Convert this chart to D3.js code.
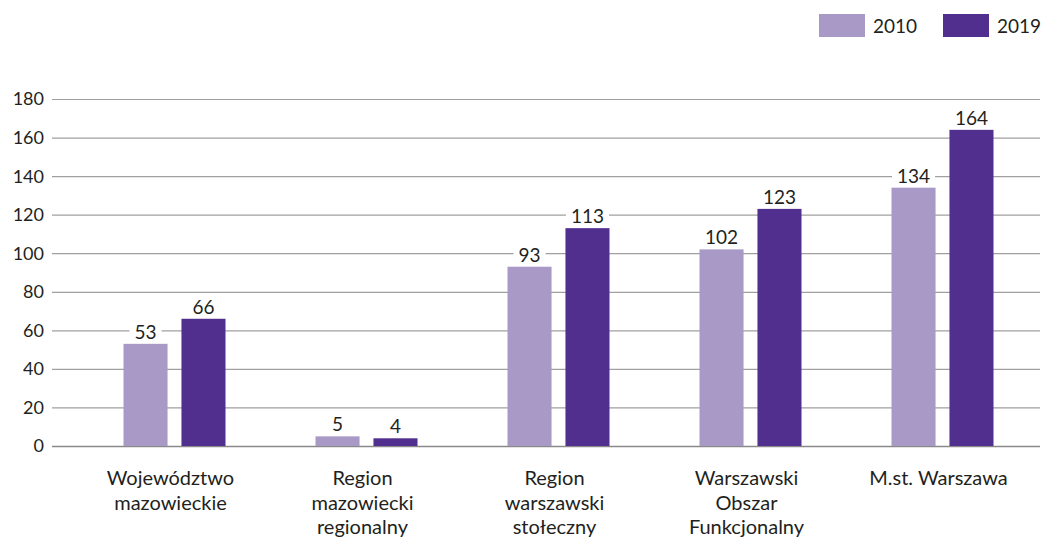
<!DOCTYPE html>
<html>
<head>
<meta charset="utf-8">
<script src="https://cdn.jsdelivr.net/npm/d3@7/dist/d3.min.js"></script>
<style>
  body { margin: 0; background: #fff; }
  svg text { font-family: Lato, "Open Sans", sans-serif; fill: #231f20; }
</style>
</head>
<body>
<svg id="chart" width="1042" height="539"></svg>
<script>
// Data
const categories = [
  ["Województwo", "mazowieckie"],
  ["Region", "mazowiecki", "regionalny"],
  ["Region", "warszawski", "stołeczny"],
  ["Warszawski", "Obszar", "Funkcjonalny"],
  ["M.st. Warszawa"]
];
const seriesNames = ["2010", "2019"];
const values2010 = [53, 5, 93, 102, 134];
const values2019 = [66, 4, 113, 123, 164];
const yTicks = [0, 20, 40, 60, 80, 100, 120, 140, 160, 180];
const colors = ["#a899c7", "#512f8f"];

const svg = d3.select("#chart");
const gridLeft = 52, gridRight = 1040;
const y = d3.scaleLinear().domain([0, 180]).range([446, 99]);
const x = d3.scaleBand().domain(d3.range(categories.length)).range([78.5, 1038.5]);
const groupW = 102;
const xi = d3.scaleBand().domain([0, 1]).range([0, groupW]).paddingInner(0.24);

// Gridlines and y tick labels
const grid = svg.append("g");
grid.selectAll("line").data(yTicks).join("line")
  .attr("x1", gridLeft).attr("x2", gridRight)
  .attr("y1", d => y(d) + 0.5).attr("y2", d => y(d) + 0.5)
  .attr("stroke", d => d === 0 ? "#8a8a8a" : "#a0a0a0")
  .attr("stroke-width", d => d === 0 ? 1.5 : 1.2);
grid.selectAll("text").data(yTicks).join("text")
  .attr("x", 44).attr("y", d => y(d))
  .attr("dy", "0.36em")
  .attr("text-anchor", "end")
  .attr("font-size", 18)
  .text(d => d);

// Bars
const rows = categories.map((c, i) => ({ i, vals: [values2010[i], values2019[i]] }));
const groups = svg.append("g").selectAll("g").data(rows).join("g")
  .attr("transform", d => `translate(${x(d.i) + x.bandwidth() / 2 - groupW / 2},0)`);
groups.selectAll("rect").data(d => d.vals.map((v, s) => ({ v, s }))).join("rect")
  .attr("x", d => xi(d.s))
  .attr("width", xi.bandwidth())
  .attr("y", d => y(d.v))
  .attr("height", d => y(0) - y(d.v))
  .attr("fill", d => colors[d.s]);

// Value labels with white backing
const labels = groups.selectAll("g.lbl").data(d => d.vals.map((v, s) => ({ v, s }))).join("g")
  .attr("class", "lbl");
labels.each(function (d) {
  const g = d3.select(this);
  const cx = xi(d.s) + xi.bandwidth() / 2;
  const t = g.append("text")
    .attr("x", cx).attr("y", y(d.v) - 5)
    .attr("text-anchor", "middle")
    .attr("font-size", 19)
    .text(d.v);
  const bb = t.node().getBBox();
  g.insert("rect", "text")
    .attr("x", bb.x - 5).attr("y", bb.y + 2)
    .attr("width", bb.width + 10).attr("height", bb.height - 2)
    .attr("fill", "#fff");
});

// Category labels
const cat = svg.append("g").selectAll("text").data(categories).join("text")
  .attr("text-anchor", "middle")
  .attr("font-size", 20);
cat.each(function (lines, i) {
  const t = d3.select(this);
  lines.forEach((ln, k) => {
    t.append("tspan")
      .attr("x", x(i) + x.bandwidth() / 2 - 4)
      .attr("y", 485 + k * 24.5)
      .text(ln);
  });
});

// Legend
const legendX = [819, 943];
const lg = svg.append("g").selectAll("g").data(seriesNames).join("g")
  .attr("transform", (d, i) => `translate(${legendX[i]},14)`);
lg.append("rect").attr("width", 46).attr("height", 23).attr("fill", (d, i) => colors[i]);
lg.append("text").attr("x", 54).attr("y", 12).attr("dy", "0.36em")
  .attr("font-size", 19).text(d => d);
</script>
</body>
</html>
